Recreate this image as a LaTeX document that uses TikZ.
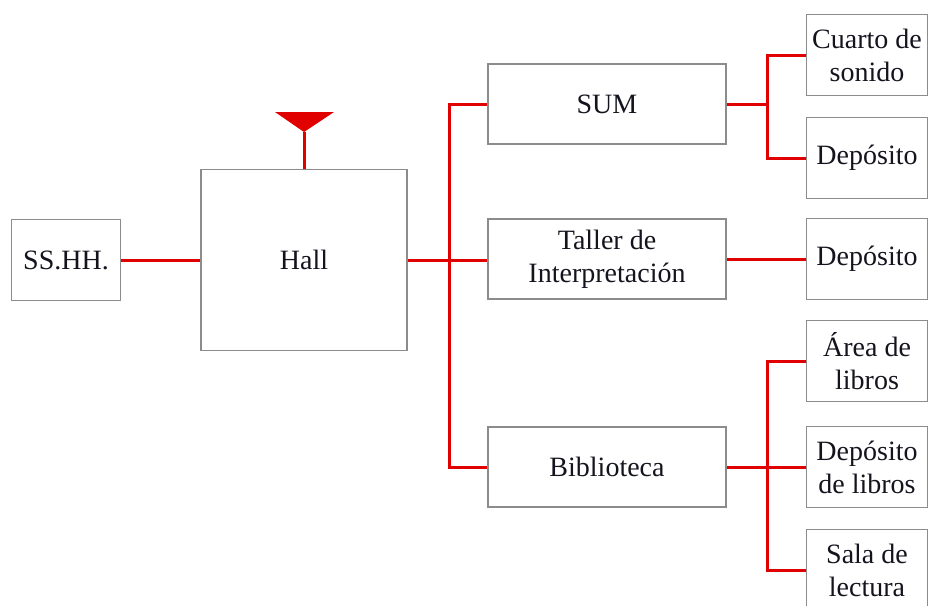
\documentclass[tikz,border=0pt]{standalone}
\usepackage{fontspec}
\setmainfont{Liberation Serif}
\usetikzlibrary{positioning,calc}
\definecolor{linkred}{RGB}{224,0,0}
\definecolor{boxgray}{RGB}{140,140,140}
\definecolor{ink}{RGB}{20,20,30}
\tikzset{
  room/.style  = {draw=boxgray, line width=0.9pt, inner sep=0pt, align=center,
                  text=ink, font=\fontsize{14}{16.5}\selectfont},
  wide/.style  = {room, minimum width=119pt, minimum height=40pt},
  side/.style  = {room, minimum width=60.5pt, minimum height=40.5pt},
  link/.style  = {draw=linkred, line width=1.5pt}
}

\begin{document}
\begin{tikzpicture}[x=0.5pt, y=-0.5pt]
  \useasboundingbox (0,0) rectangle (930,605);
  % left part
  \node[room, minimum width=54.5pt, minimum height=40.5pt] (sshh) at (66,260) {SS.HH.};
  \node[room, minimum width=103pt, minimum height=90.5pt] (hall) at (304,260) {Hall};
  % middle column
  \node[wide] (sum)    at (607,104) {SUM};
  \node[wide] (taller) at (607,259) {Taller de\\Interpretación};
  \node[wide] (biblio) at (607,467) {Biblioteca};
  % right column
  \node[side] (cuarto) at (867,55)  {Cuarto de\\sonido};
  \node[side] (depa)   at (867,158) {Depósito};
  \node[side] (depb)   at (867,259) {Depósito};
  \node[side] (area)   at (867,361) {Área de\\libros};
  \node[side] (depl)   at (867,467) {Depósito\\de libros};
  \node[side] (sala)   at (867,570) {Sala de\\lectura};
  % bus points
  \coordinate (busL) at (449,260);
  \coordinate (busS) at (767,104);
  \coordinate (busB) at (767,467);
  \coordinate (tip)  at (hall.north |- 0,132);
  % entrance mark
  \fill[linkred] (275,112) -- (334,112) -- (tip) -- cycle;
  \draw[link] (hall.north) -- (tip);
  % connectors
  \draw[link] (sshh) -- (hall);
  \draw[link] (hall.east) -- (busL) -- (taller.west |- busL);
  \draw[link] (sum.west) -| (busL) |- (biblio.west);
  \draw[link] (sum.east) -- (busS);
  \draw[link] (cuarto.west) -| (busS) |- (depa.west);
  \draw[link] (taller.east) -- (depb.west);
  \draw[link] (biblio.east) -- (depl.west);
  \draw[link] (area.west) -| (busB) |- (sala.west);
\end{tikzpicture}
\end{document}
